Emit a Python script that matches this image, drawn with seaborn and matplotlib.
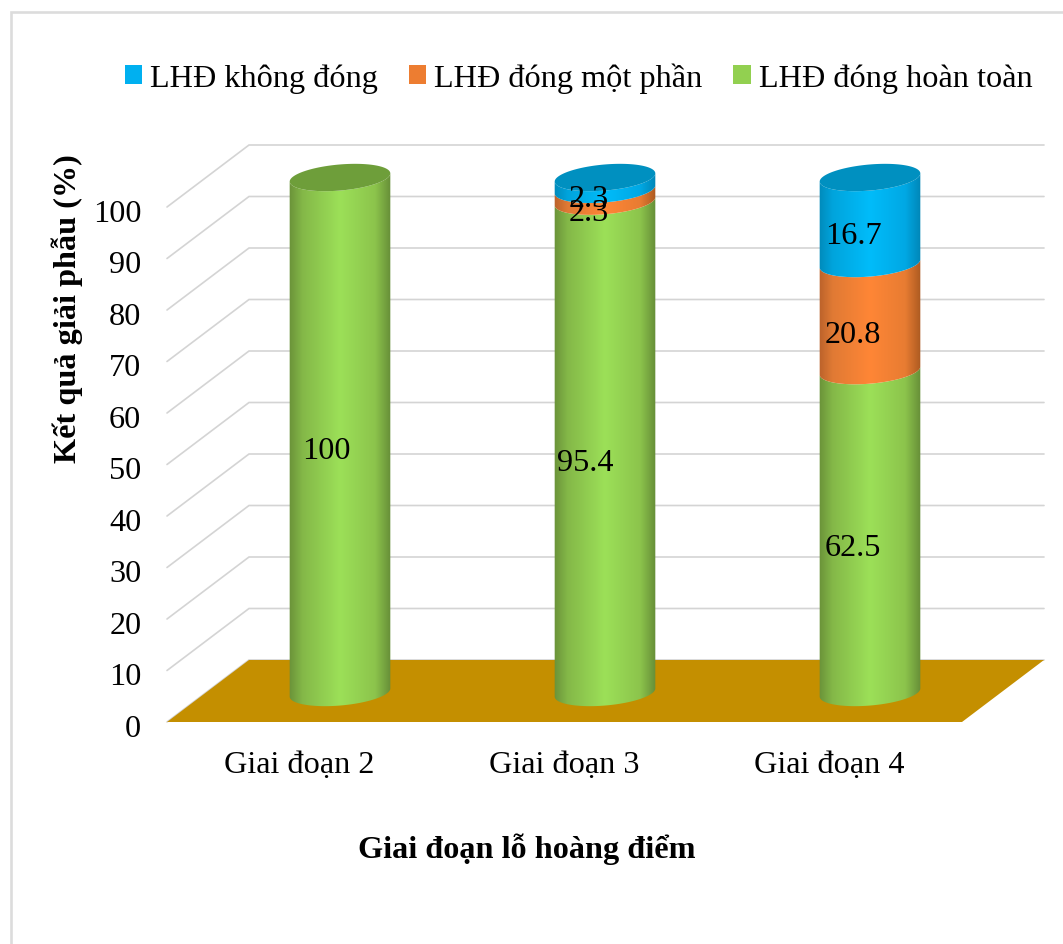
import numpy as np
import matplotlib
matplotlib.use("Agg")
import matplotlib.pyplot as plt
import seaborn as sns
from matplotlib.colors import LinearSegmentedColormap
from matplotlib.patches import Patch, PathPatch, Polygon, Rectangle
from matplotlib.path import Path
from matplotlib.transforms import Affine2D

stages = ["Giai đoạn 2", "Giai đoạn 3", "Giai đoạn 4"]
series_names = ["LHĐ đóng hoàn toàn", "LHĐ đóng một phần", "LHĐ không đóng"]
closed_full = [100, 95.4, 62.5]
closed_part = [0, 2.3, 20.8]
not_closed = [0, 2.3, 16.7]
y_ticks = [0, 10, 20, 30, 40, 50, 60, 70, 80, 90, 100]

W, H = 1063, 945
PLOT_L, PLOT_R, PLOT_B, PLOT_T = 167, 962, 723, 208
DEPTH_PX = (82, 62)
BAR_PX = 101
SHIFT_PX = (40.5, 29.5)
ELLIPSE_B_PX = 13.0
TILT = np.deg2rad(5.0)

sns.set_theme(style="white")
plt.rcParams["font.family"] = ["Liberation Serif", "DejaVu Serif"]
plt.rcParams["text.color"] = "black"
FS = 23.2

fig = plt.figure(figsize=(W / 100, H / 100), dpi=100, facecolor="white")
ax = fig.add_axes([PLOT_L / W, 1 - PLOT_B / H, (PLOT_R - PLOT_L) / W, (PLOT_B - PLOT_T) / H])

base_colors = {"green": "#92D050", "orange": "#ED7D31", "blue": "#00B0F0"}
ramps = {
    "green": ["#688F38", "#84B848", "#9CE058", "#8CC44C", "#648A36"],
    "orange": ["#B8602A", "#E07A34", "#FF8636", "#E87C32", "#A85820"],
    "blue": ["#0088B8", "#00A4DC", "#00BCFA", "#00A8E4", "#0084B4"],
}
top_colors = {"green": "#6E9E3A", "orange": "#B85F26", "blue": "#0090C0"}
keys = ["green", "orange", "blue"]

# Stacked bars: seaborn lays out each series on the categorical axis.
bottoms = np.zeros(len(stages))
segments = []
for key, values in zip(keys, [closed_full, closed_part, not_closed]):
    before = len(ax.patches)
    sns.barplot(x=stages, y=values, color=base_colors[key], bottom=bottoms.copy(),
                width=BAR_PX / ((PLOT_R - PLOT_L) / 3), saturation=1, ax=ax)
    for patch in ax.patches[before:]:
        patch.set_visible(False)
        segments.append((key, patch))
    bottoms = bottoms + np.array(values, dtype=float)

ax.set_xlim(-0.5, 2.5)
ax.set_ylim(0, 100)
px_x = (PLOT_R - PLOT_L) / 3
px_y = (PLOT_B - PLOT_T) / 100
depth_x, depth_y = DEPTH_PX[0] / px_x, DEPTH_PX[1] / px_y
shift_x, shift_y = SHIFT_PX[0] / px_x, SHIFT_PX[1] / px_y

# Side and back walls of the chart box, then the floor.
for v in y_ticks:
    ax.plot([-0.5, -0.5 + depth_x, 2.5 + depth_x], [v, v + depth_y, v + depth_y],
            color="#D4D4D4", lw=1.2, clip_on=False, zorder=1, solid_joinstyle="miter")
ax.add_patch(Polygon([(-0.5, 0), (2.5, 0), (2.5 + depth_x, depth_y), (-0.5 + depth_x, depth_y)],
                     closed=True, fc="#C48F00", ec="none", clip_on=False, zorder=2))


def ellipse_arc(cx, cy, start, stop, n=60):
    """Tilted ellipse outline around a data-space centre."""
    t = np.linspace(start, stop, n)
    a, b = BAR_PX / 2, ELLIPSE_B_PX
    ex, ey = a * np.cos(t), b * np.sin(t)
    rx = ex * np.cos(TILT) - ey * np.sin(TILT)
    ry = ex * np.sin(TILT) + ey * np.cos(TILT)
    return np.column_stack([cx + rx / px_x, cy + ry / px_y])


# Turn each bar into a shaded cylinder section.
stack_top = {}
for key, patch in segments:
    if patch.get_height() > 0:
        cat = round(patch.get_x() + patch.get_width() / 2)
        stack_top[cat] = max(stack_top.get(cat, 0), patch.get_y() + patch.get_height())

for key, patch in segments:
    h = patch.get_height()
    if h <= 0:
        continue
    w = patch.get_width()
    cx = patch.get_x() + w / 2 + shift_x
    y0 = patch.get_y() + shift_y
    y1 = y0 + h
    lower = ellipse_arc(cx, y0, np.pi, 2 * np.pi)
    upper = ellipse_arc(cx, y1, 2 * np.pi, np.pi)
    outline = np.vstack([lower, upper, lower[:1]])
    clip = PathPatch(Path(outline), transform=ax.transData, fc="none", ec="none", clip_on=False)
    ax.add_patch(clip)
    cmap = LinearSegmentedColormap.from_list(
        key, list(zip([0, 0.14, 0.5, 0.84, 1], ramps[key])))
    im = ax.imshow(np.linspace(0, 1, 256)[None, :], cmap=cmap, aspect="auto",
                   extent=(cx - w / 2 * 1.02, cx + w / 2 * 1.02,
                           y0 - 3 * ELLIPSE_B_PX / px_y, y1 + 3 * ELLIPSE_B_PX / px_y),
                   zorder=3 + patch.get_y() / 1000, interpolation="bilinear")
    im.set_clip_box(fig.bbox)
    im.set_clip_path(clip)
    if abs(patch.get_y() + h - stack_top[round(patch.get_x() + w / 2)]) < 1e-6:
        rim = ellipse_arc(cx, y1, 0, 2 * np.pi, 120)
        ax.add_patch(Polygon(rim, closed=True, fc=top_colors[key], ec="none",
                             clip_on=False, zorder=3.5))

ax.set_xlim(-0.5, 2.5)
ax.set_ylim(0, 100)

# Value labels sit left of the cylinder axis and slightly below each section's middle.
label_nudge = {"green": [-14, -20, -17], "orange": [0, -16, -17], "blue": [0, -16, -17]}
label_drop = {"green": 16, "orange": 17, "blue": 15}
for key, values, starts in zip(keys, [closed_full, closed_part, not_closed],
                               [np.zeros(3), np.array(closed_full),
                                np.array(closed_full) + np.array(closed_part)]):
    for i, (v, s) in enumerate(zip(values, starts)):
        if v > 0:
            ax.annotate(f"{v:g}", xy=(i + shift_x, s + v / 2 + shift_y),
                        xytext=(label_nudge[key][i], -label_drop[key]),
                        textcoords="offset pixels", ha="center", va="center",
                        fontsize=FS, color="black", zorder=6, annotation_clip=False)

sns.despine(ax=ax, left=True, bottom=True)
ax.set_yticks(y_ticks)
ax.set_xticks(range(3))
ax.set_xticklabels(stages)
ax.tick_params(axis="y", length=0, pad=18.5, labelsize=FS, colors="black")
ax.tick_params(axis="x", length=0, pad=20, labelsize=FS, colors="black")
for tick_label in ax.get_yticklabels():
    tick_label.set_transform(tick_label.get_transform() + Affine2D().translate(0, -3))
ax.grid(False)
ax.patch.set_visible(False)

ax.set_ylabel("Kết quả giải phẫu (%)", fontsize=FS, fontweight="bold", color="black")
ax.yaxis.set_label_coords((67 - PLOT_L) / (PLOT_R - PLOT_L), (PLOT_B - 309) / (PLOT_B - PLOT_T))
ax.set_xlabel("Giai đoạn lỗ hoàng điểm", fontsize=FS, fontweight="bold", color="black")
ax.xaxis.set_label_coords((527 - PLOT_L) / (PLOT_R - PLOT_L), (PLOT_B - 849) / (PLOT_B - PLOT_T))
ax.xaxis.label.set_verticalalignment("center")
ax.yaxis.label.set_verticalalignment("center")

handles = [Patch(fc=base_colors[k], ec="none") for k in ["blue", "orange", "green"]]
names = [series_names[2], series_names[1], series_names[0]]
fig.legend(handles, names, ncol=3, loc="center left",
           bbox_to_anchor=(125 / W, 1 - 79 / H), bbox_transform=fig.transFigure,
           frameon=False, fontsize=FS, labelcolor="black", borderpad=0, borderaxespad=0,
           handlelength=0.54, handleheight=0.54, handletextpad=0.25, columnspacing=0.95)

# Chart frame: its right and bottom edges fall outside the canvas.
fig.add_artist(Rectangle((10.8 / W, -0.1), 1.2, 1 - 12.5 / H + 0.1, transform=fig.transFigure,
                         fc="none", ec="#DCDCDC", lw=1.9))

fig.savefig("out.png", dpi=100, facecolor="white")
